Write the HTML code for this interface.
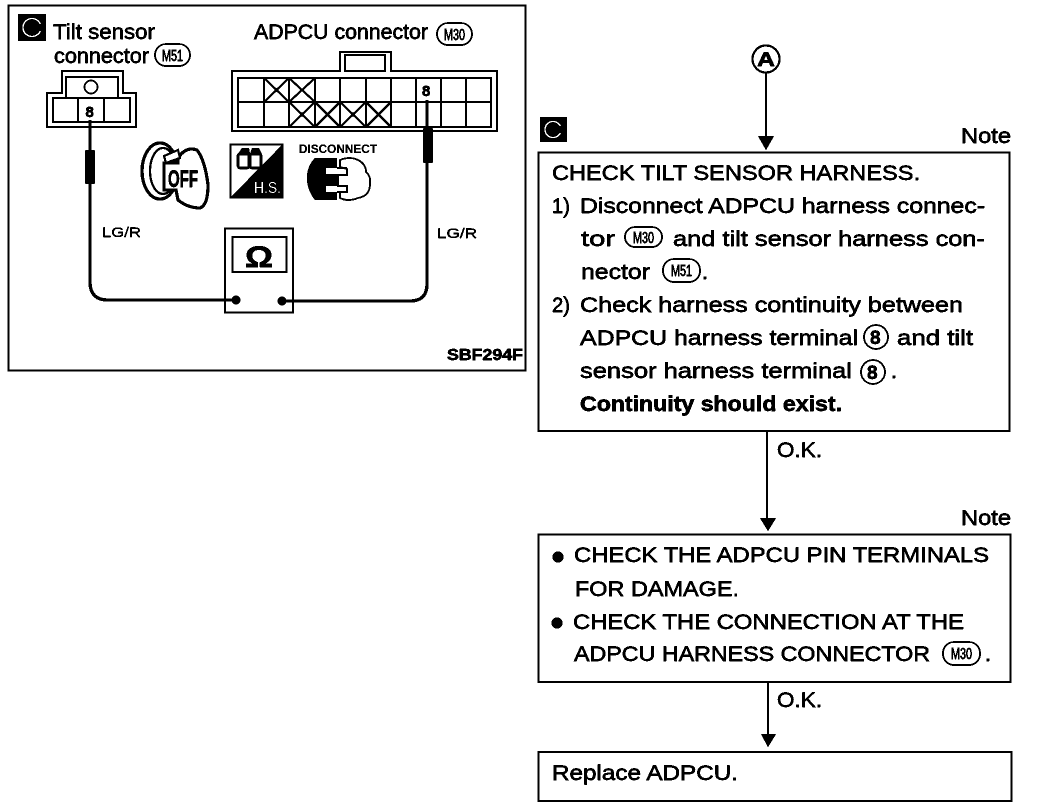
<!DOCTYPE html>
<html><head><meta charset="utf-8"><style>
html,body{margin:0;padding:0;background:#fff}
svg{display:block}
text{font-family:"Liberation Sans",sans-serif;fill:#000;stroke:#000;stroke-width:.45}
.t{font-size:21px}
.s{font-size:16px;stroke-width:.5}
.f{fill:none;stroke:#000}
</style></head><body>
<svg width="1056" height="812" viewBox="0 0 1056 812" xmlns="http://www.w3.org/2000/svg">
<defs><filter id="b" x="0" y="0" width="100%" height="100%" color-interpolation-filters="sRGB"><feComponentTransfer><feFuncR type="discrete" tableValues="0 0 0 1"/><feFuncG type="discrete" tableValues="0 0 0 1"/><feFuncB type="discrete" tableValues="0 0 0 1"/></feComponentTransfer></filter></defs>
<g filter="url(#b)">
<rect width="1056" height="812" fill="#fff"/>

<!-- Left panel -->
<rect class="f" x="8.500" y="5.500" width="517" height="365" stroke-width="2"/>
<rect x="18" y="14" width="28" height="27" fill="#000"/>
<circle cx="32" cy="27.500" r="9" fill="none" stroke="#fff" stroke-width="1.600"/><rect x="37" y="24" width="8" height="7" fill="#000"/>
<text class="t" x="53" y="39" textLength="102" lengthAdjust="spacingAndGlyphs">Tilt sensor</text>
<text class="t" x="54" y="63" textLength="95" lengthAdjust="spacingAndGlyphs">connector</text>
<rect class="f" x="155" y="44" width="35" height="22" rx="11" stroke-width="1.600"/>
<text class="s" x="162" y="61" textLength="21" lengthAdjust="spacingAndGlyphs">M51</text>
<text class="t" x="254" y="39" textLength="174" lengthAdjust="spacingAndGlyphs">ADPCU connector</text>
<rect class="f" x="437" y="23" width="35" height="22" rx="11" stroke-width="1.600"/>
<text class="s" x="444" y="40" textLength="21" lengthAdjust="spacingAndGlyphs">M30</text>

<!-- Tilt connector -->
<path class="f" stroke-width="2" d="M62 93V71H123V93H136V127H47V93Z"/>
<path class="f" stroke-width="1.600" d="M66 97V77H118V97"/>
<rect class="f" x="53" y="98" width="25" height="24" stroke-width="2"/>
<rect class="f" x="78" y="98" width="26" height="24" stroke-width="2"/>
<rect class="f" x="104" y="98" width="26" height="24" stroke-width="2"/>
<circle class="f" cx="91" cy="87" r="6.500" stroke-width="1.600"/>
<text x="85.500" y="117" style="font-size:15px;font-weight:bold">8</text>

<!-- ADPCU connector -->
<path class="f" stroke-width="2" d="M340 71V52H391V71H497V131H232V71Z"/>
<rect class="f" x="345" y="55" width="40" height="16" stroke-width="2"/>
<rect class="f" x="238" y="78" width="253" height="49" stroke-width="2"/>
<path class="f" stroke-width="1.600" d="M238 102H491M264 78V127M289 78V127M315 78V127M340 78V127M366 78V127M391 78V127M416 78V127M441 78V127M466 78V127"/>
<path class="f" stroke-width="2" d="M264 78L289 102M289 78L264 102M289 78L315 102M315 78L289 102M289 102L315 127M315 102L289 127M315 102L340 127M340 102L315 127M340 102L366 127M366 102L340 127M366 102L391 127M391 102L366 127"/>
<rect x="420" y="82" width="15" height="17" fill="#fff"/>
<text x="422" y="96" style="font-size:15px;font-weight:bold">8</text>

<!-- Wires -->
<path class="f" stroke-width="3" d="M90 120V282Q90 300 108 300H236"/>
<rect x="85" y="150" width="10" height="34" rx="2" fill="#000"/>
<path class="f" stroke-width="3" d="M427 100V284Q427 301 410 301H282"/>
<rect x="423" y="128" width="10" height="35" rx="2" fill="#000"/>

<!-- Meter -->
<rect class="f" x="225" y="228.500" width="68" height="84" stroke-width="2"/>
<rect class="f" x="232.500" y="237" width="54" height="35" stroke-width="2"/>
<text x="245" y="267" textLength="28" lengthAdjust="spacingAndGlyphs" style="font-size:30px;font-weight:bold">Ω</text>
<path class="f" stroke-width="3" d="M225 300H236M282 301H293"/>
<circle cx="236" cy="300" r="4.500"/><circle cx="282" cy="301" r="4.500"/>
<text x="102" y="237" textLength="39" lengthAdjust="spacingAndGlyphs" style="font-size:14px;stroke-width:.2">LG/R</text>
<text x="437" y="238" textLength="40" lengthAdjust="spacingAndGlyphs" style="font-size:14px;stroke-width:.2">LG/R</text>
<text x="447" y="360" textLength="76" lengthAdjust="spacingAndGlyphs" style="font-size:16px;font-weight:bold">SBF294F</text>

<!-- Key icon -->
<ellipse class="f" cx="160" cy="171" rx="18" ry="28" stroke-width="3"/>
<ellipse class="f" cx="163" cy="171" rx="13" ry="23" stroke-width="2"/>
<path d="M178 158Q186 146 197 150Q205 160 208 185Q208 205 200 208Q188 208 178 200L176 190H164V163H178Z" fill="#fff" stroke="#000" stroke-width="3"/>
<path d="M164 156L178 150L180 158L166 163Z" fill="#fff" stroke="#000" stroke-width="2"/>
<text x="168" y="187" textLength="30" lengthAdjust="spacingAndGlyphs" style="font-size:24px;font-weight:bold">OFF</text>

<!-- H.S. icon -->
<rect class="f" x="230.500" y="144.500" width="52" height="53" stroke-width="1.600"/>
<path d="M283 144V198H230Z"/>
<rect x="238" y="154" width="11" height="14" rx="2" fill="#fff" stroke="#000" stroke-width="2.500"/>
<rect x="250" y="154" width="11" height="14" rx="2" fill="#fff" stroke="#000" stroke-width="2.500"/>
<path d="M238 154L242 148H249L250 154ZM250 154L252 148H259L262 154Z"/>
<text x="254" y="193" textLength="27" lengthAdjust="spacingAndGlyphs" style="font-size:16px;fill:#fff;stroke:none">H.S.</text>

<!-- Disconnect icon -->
<text x="299" y="153" textLength="78" lengthAdjust="spacingAndGlyphs" style="font-size:12px;font-weight:bold;stroke:none">DISCONNECT</text>
<path d="M315 158H337V168H326V174H337V186H326V192H337V200H315Q307 190 307 178Q307 166 315 158Z"/>
<path d="M340 167V160Q350 156 358 160Q366 164 366 172Q371 176 370 184Q370 196 358 198Q348 202 340 198V192H347V186H338V175H347V169Z" fill="#fff" stroke="#000" stroke-width="1.600"/>
<path class="f" stroke-width="1.600" d="M337 168H347M337 175H347M337 186H347M337 192H347"/>

<!-- Right flow -->
<circle class="f" cx="766" cy="59" r="13.500" stroke-width="2"/>
<text x="757" y="66" textLength="18" lengthAdjust="spacingAndGlyphs" style="font-size:19px;font-weight:bold">A</text>
<path class="f" stroke-width="2" d="M766 73V138"/>
<path d="M758 136H774L766 150Z"/>
<rect x="540" y="117" width="27" height="25" fill="#000"/>
<circle cx="553" cy="129.500" r="8" fill="none" stroke="#fff" stroke-width="1.600"/><rect x="558" y="126" width="8" height="7" fill="#000"/>
<text class="t" x="961" y="143" textLength="50" lengthAdjust="spacingAndGlyphs">Note</text>

<rect class="f" x="538.500" y="152.500" width="471" height="278.500" stroke-width="2"/>
<text class="t" x="552" y="180" textLength="368" lengthAdjust="spacingAndGlyphs">CHECK TILT SENSOR HARNESS.</text>
<text class="t" x="552" y="213" textLength="18" lengthAdjust="spacingAndGlyphs">1)</text>
<text class="t" x="580" y="213" textLength="405" lengthAdjust="spacingAndGlyphs">Disconnect ADPCU harness connec-</text>
<text class="t" x="581" y="246" textLength="34" lengthAdjust="spacingAndGlyphs">tor</text>
<rect class="f" x="625" y="227" width="37" height="20" rx="10" stroke-width="1.600"/>
<text class="s" x="633" y="243" textLength="21" lengthAdjust="spacingAndGlyphs">M30</text>
<text class="t" x="673" y="246" textLength="312" lengthAdjust="spacingAndGlyphs">and tilt sensor harness con-</text>
<text class="t" x="581" y="279" textLength="69" lengthAdjust="spacingAndGlyphs">nector</text>
<rect class="f" x="663" y="259" width="37" height="23" rx="11" stroke-width="1.600"/>
<text class="s" x="671" y="276" textLength="21" lengthAdjust="spacingAndGlyphs">M51</text>
<text class="t" x="702" y="279">.</text>
<text class="t" x="552" y="312" textLength="18" lengthAdjust="spacingAndGlyphs">2)</text>
<text class="t" x="580" y="312" textLength="383" lengthAdjust="spacingAndGlyphs">Check harness continuity between</text>
<text class="t" x="580" y="345" textLength="278" lengthAdjust="spacingAndGlyphs">ADPCU harness terminal</text>
<circle class="f" cx="876" cy="337" r="12" stroke-width="1.600"/>
<text x="870" y="344" style="font-size:19px;font-weight:bold">8</text>
<text class="t" x="897" y="345" textLength="76" lengthAdjust="spacingAndGlyphs">and tilt</text>
<text class="t" x="580" y="378" textLength="272" lengthAdjust="spacingAndGlyphs">sensor harness terminal</text>
<circle class="f" cx="873" cy="372" r="12" stroke-width="1.600"/>
<text x="867" y="379" style="font-size:19px;font-weight:bold">8</text>
<text class="t" x="891" y="378">.</text>
<text class="t" x="580" y="411" textLength="262" lengthAdjust="spacingAndGlyphs" style="font-weight:bold">Continuity should exist.</text>

<path class="f" stroke-width="2" d="M767 431V520"/>
<text class="t" x="777" y="457" textLength="45" lengthAdjust="spacingAndGlyphs">O.K.</text>
<path d="M760 518H776L768 531Z"/>
<text class="t" x="961" y="525" textLength="50" lengthAdjust="spacingAndGlyphs">Note</text>

<rect class="f" x="538.500" y="534.500" width="472" height="147.500" stroke-width="2"/>
<circle cx="558" cy="557" r="5.500"/>
<text class="t" x="574" y="562" textLength="415" lengthAdjust="spacingAndGlyphs">CHECK THE ADPCU PIN TERMINALS</text>
<text class="t" x="575" y="596" textLength="164" lengthAdjust="spacingAndGlyphs">FOR DAMAGE.</text>
<circle cx="557" cy="623" r="5.500"/>
<text class="t" x="573" y="629" textLength="391" lengthAdjust="spacingAndGlyphs">CHECK THE CONNECTION AT THE</text>
<text class="t" x="574" y="661" textLength="356" lengthAdjust="spacingAndGlyphs">ADPCU HARNESS CONNECTOR</text>
<rect class="f" x="943" y="642" width="37" height="23" rx="11" stroke-width="1.600"/>
<text class="s" x="951" y="659" textLength="21" lengthAdjust="spacingAndGlyphs">M30</text>
<text class="t" x="985" y="661">.</text>

<path class="f" stroke-width="1.600" d="M768 682V736"/>
<text class="t" x="777" y="707" textLength="45" lengthAdjust="spacingAndGlyphs">O.K.</text>
<path d="M761 734H776L768 747Z"/>

<rect class="f" x="538.500" y="752" width="473" height="49" stroke-width="2"/>
<text class="t" x="552" y="780" textLength="186" lengthAdjust="spacingAndGlyphs">Replace ADPCU.</text>
</g>
</svg>
</body></html>
